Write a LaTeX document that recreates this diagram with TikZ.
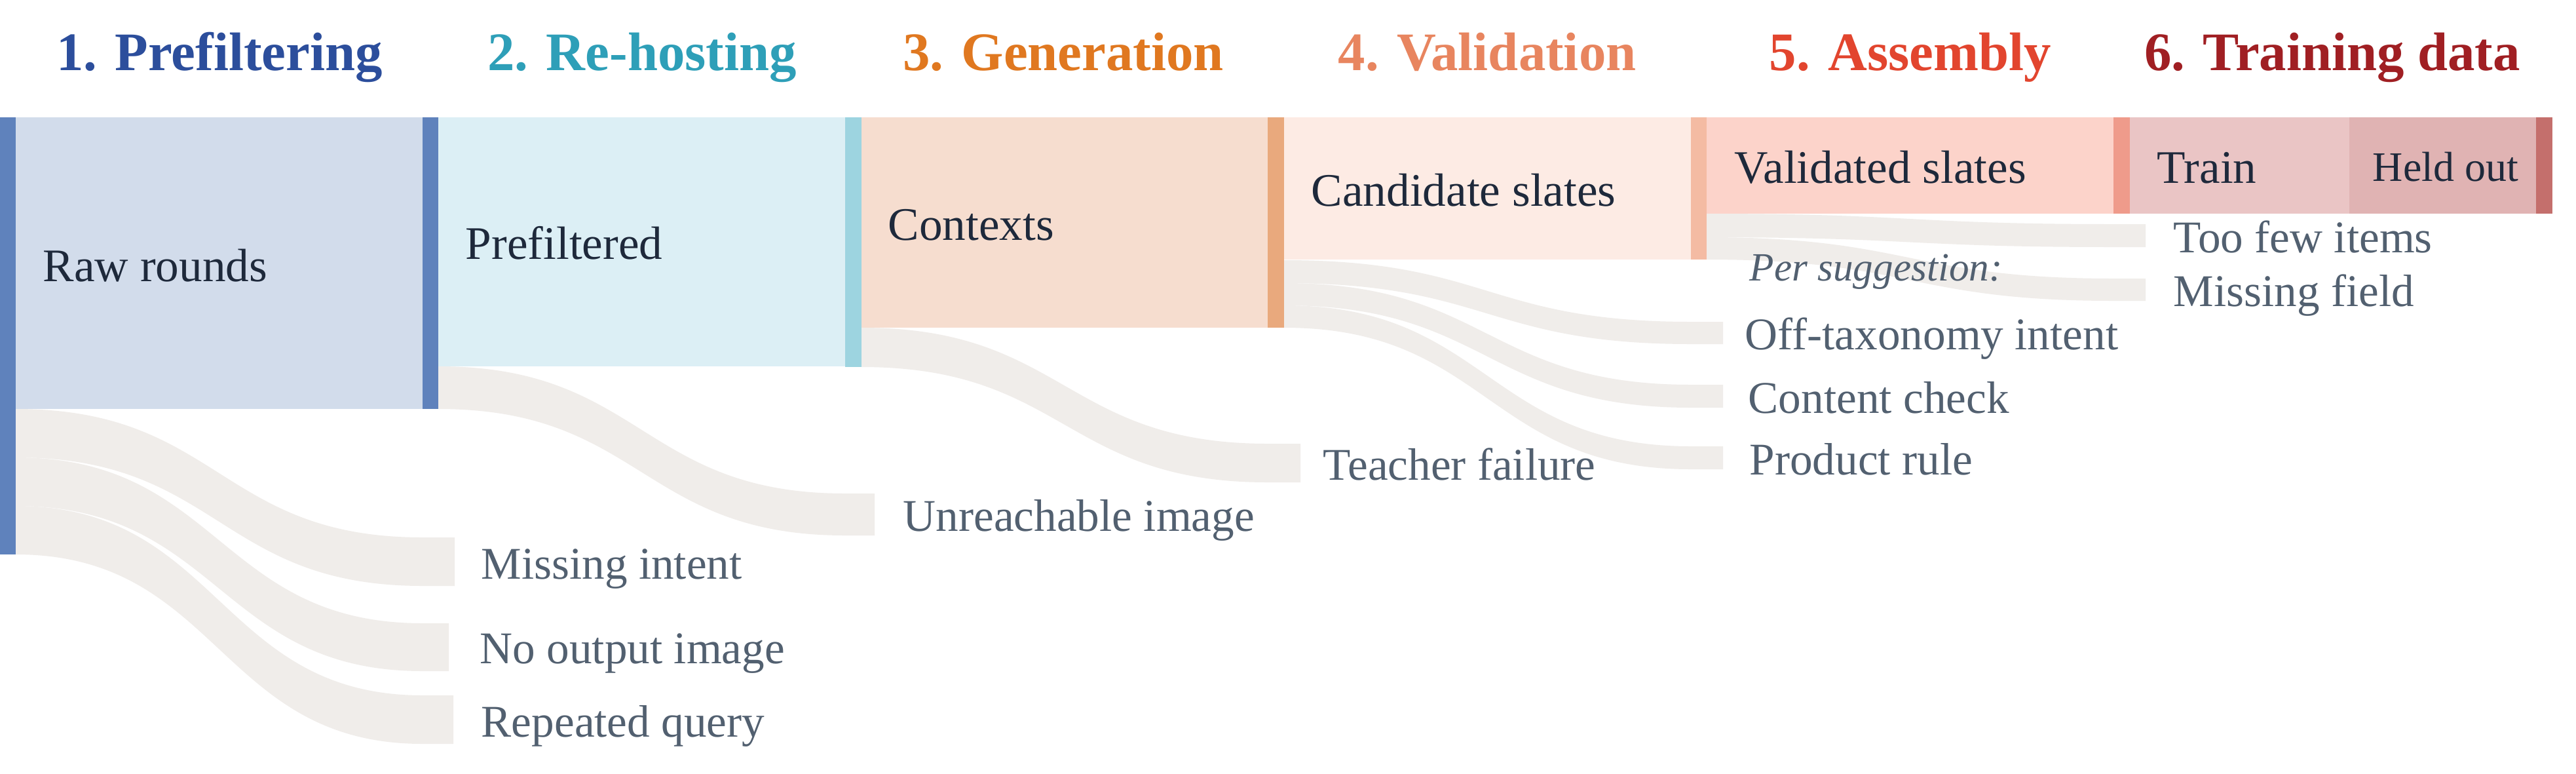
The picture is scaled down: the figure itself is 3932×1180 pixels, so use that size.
\documentclass[tikz,border=0pt]{standalone}
\usepackage{fontspec}
\setmainfont{Liberation Serif}
\definecolor{barblue}{HTML}{5F82BC}
\definecolor{fillraw}{HTML}{D2DCEB}
\definecolor{fillpre}{HTML}{DCEFF5}
\definecolor{barteal}{HTML}{9DD4E0}
\definecolor{fillctx}{HTML}{F6DDCF}
\definecolor{barorange}{HTML}{E9A97D}
\definecolor{fillcand}{HTML}{FDEBE4}
\definecolor{barpeach}{HTML}{F4BBA3}
\definecolor{fillval}{HTML}{FCD3CA}
\definecolor{barsalmon}{HTML}{EF9B8B}
\definecolor{filltrain}{HTML}{EAC5C5}
\definecolor{fillheld}{HTML}{E0B3B3}
\definecolor{bardark}{HTML}{C46F6C}
\definecolor{lossgray}{HTML}{F0EDEA}
\definecolor{hone}{HTML}{2C4E9C}
\definecolor{htwo}{HTML}{2E9FB8}
\definecolor{hthree}{HTML}{E07820}
\definecolor{hfour}{HTML}{E8855F}
\definecolor{hfive}{HTML}{E2452E}
\definecolor{hsix}{HTML}{A01F23}
\definecolor{nodetext}{HTML}{1E293B}
\definecolor{losstext}{HTML}{526070}
\newcommand\lossband[7]{%
  \fill[lossgray] (#1,#2) .. controls ({(#1+#4)/2},#2) and ({(#1+#4)/2},#5) .. (#4,#5)
    -- (#7,#5) -- (#7,#6) -- (#4,#6)
    .. controls ({(#1+#4)/2},#6) and ({(#1+#4)/2},#3) .. (#1,#3) -- cycle;}
\begin{document}
\begin{tikzpicture}[x=0.25pt,y=-0.25pt,
  header/.style={anchor=base,inner sep=0pt,font=\fontsize{20.7}{24}\selectfont\bfseries},
  stagelabel/.style={anchor=base west,inner sep=0pt,text=nodetext,font=\fontsize{17.8}{21}\selectfont},
  losslabel/.style={anchor=base west,inner sep=0pt,text=losstext,font=\fontsize{17.3}{21}\selectfont}]
\useasboundingbox (0,0) rectangle (3932,1180);
\fill[white] (0,0) rectangle (3932,1180);

% headers
\node[header,text=hone]   (h1) at (335,107)  {1. Prefiltering};
\node[header,text=htwo]   (h2) at (980,107)  {2. Re-hosting};
\node[header,text=hthree] (h3) at (1623,107) {3. Generation};
\node[header,text=hfour]  (h4) at (2270,107) {4. Validation};
\node[header,text=hfive]  (h5) at (2916,107) {5. Assembly};
\node[header,text=hsix]   (h6) at (3560,107) {6. Training data};

% loss flows
\lossband{24}{624}{698}{645}{820}{894}{694}
\lossband{24}{698}{772}{645}{951}{1024}{685}
\lossband{24}{772}{846}{645}{1061}{1135}{692}
\lossband{669}{559}{624}{1290}{753}{817}{1335}
\lossband{1315}{500}{560}{1935}{677}{736}{1985}
\lossband{1960}{397}{432}{2581}{491}{525}{2630}
\lossband{1960}{432}{466}{2581}{587}{622}{2630}
\lossband{1960}{466}{500}{2581}{681}{716}{2630}
\lossband{2605}{326}{362}{3226}{342}{377}{3275}
\lossband{2605}{362}{396}{3226}{425}{459}{3275}

% main bands
\fill[fillraw]   (24,179) rectangle (645,624);
\fill[fillpre]   (669,179) rectangle (1290,559);
\fill[fillctx]   (1315,179) rectangle (1935,500);
\fill[fillcand]  (1960,179) rectangle (2581,396);
\fill[fillval]   (2605,179) rectangle (3226,326);
\fill[filltrain] (3251,179) rectangle (3586,326);
\fill[fillheld]  (3586,179) rectangle (3871,326);

% node bars
\fill[barblue]   (0,179) rectangle (24,846);
\fill[barblue]   (645,179) rectangle (669,624);
\fill[barteal]   (1290,179) rectangle (1315,560);
\fill[barorange] (1935,179) rectangle (1960,500);
\fill[barpeach]  (2581,179) rectangle (2605,396);
\fill[barsalmon] (3226,179) rectangle (3251,326);
\fill[bardark]   (3871,179) rectangle (3896,326);

% stage labels
\node[stagelabel] (raw)  at (65,429)   {Raw rounds};
\node[stagelabel] (pre)  at (710,395)  {Prefiltered};
\node[stagelabel] (ctx)  at (1355,366) {Contexts};
\node[stagelabel] (cand) at (2001,314) {Candidate slates};
\node[stagelabel] (val)  at (2647,279) {Validated slates};
\node[stagelabel] (train) at (3292,279) {Train};
\node[stagelabel,font=\fontsize{16}{19}\selectfont] (held) at (3621,276) {Held out};

% loss labels
\node[losslabel] (l1) at (734,883)   {Missing intent};
\node[losslabel] (l2) at (732,1012)  {No output image};
\node[losslabel] (l3) at (734,1124)  {Repeated query};
\node[losslabel] (l4) at (1378,810)  {Unreachable image};
\node[losslabel] (l5) at (2019,732)  {Teacher failure};
\node[losslabel,font=\fontsize{15.3}{18}\selectfont\itshape] (per) at (2670,428) {Per suggestion:};
\node[losslabel] (l6) at (2663,533)  {Off-taxonomy intent};
\node[losslabel] (l7) at (2668,630)  {Content check};
\node[losslabel] (l8) at (2670,724)  {Product rule};
\node[losslabel] (l9) at (3317,385)  {Too few items};
\node[losslabel] (l10) at (3317,467) {Missing field};
\end{tikzpicture}
\end{document}
